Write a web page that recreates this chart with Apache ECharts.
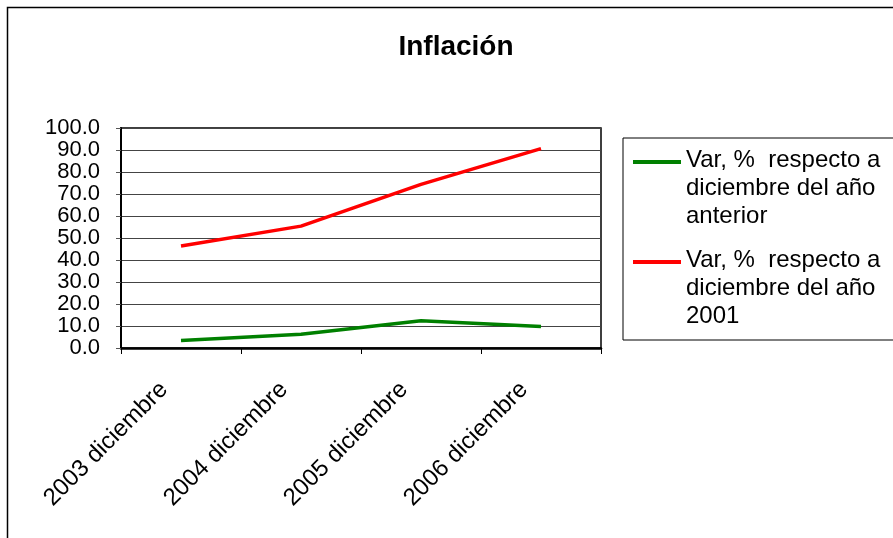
<!DOCTYPE html>
<html>
<head>
<meta charset="utf-8">
<title>Inflación</title>
<script src="https://cdn.jsdelivr.net/npm/echarts@6/dist/echarts.min.js"></script>
<style>
  html, body { margin: 0; padding: 0; background: #fff; }
  #chart { width: 893px; height: 538px; }
</style>
</head>
<body>
<div id="chart"></div>
<script>
// categorías del eje X
const categories = ["2003 diciembre", "2004 diciembre", "2005 diciembre", "2006 diciembre"];

// nombres de las series (leyenda)
const seriesNames = [
  "Var, %  respecto a\ndiciembre del año\nanterior",
  "Var, %  respecto a\ndiciembre del año\n2001",
];

// valores
const varAnterior = [3.4, 6.3, 12.4, 9.8];
const var2001 = [46.4, 55.4, 74.4, 90.6];

// marcas del eje Y
const yMin = 0;
const yMax = 100;
const yStep = 10;

const FONT = "'Liberation Sans', Arial, sans-serif";

// icono de leyenda: la raya arriba, así queda a la altura de la primera línea del texto
const legendIcon = "path://M0,0L48,0L48,4L0,4Z M0,56L48,56";

const chart = echarts.init(document.getElementById("chart"), null, { renderer: "canvas" });

const option = {
  animation: false,
  backgroundColor: "#fff",
  textStyle: { fontFamily: FONT, color: "#000" },
  title: {
    text: "Inflación",
    left: 456,
    top: 33,
    padding: 0,
    textAlign: "center",
    textStyle: { fontFamily: FONT, fontSize: 28, fontWeight: "bold", color: "#000" },
  },
  graphic: [
    {
      type: "rect",
      silent: true,
      z: -1,
      shape: { x: 7.5, y: 7.5, width: 1000, height: 1000 },
      style: { fill: "none", stroke: "#000", lineWidth: 1.5 },
    },
  ],
  legend: {
    orient: "vertical",
    left: 623,
    top: 138,
    padding: [8, 40, 10, 10],
    itemGap: 16,
    itemWidth: 48,
    itemHeight: 56,
    borderColor: "#000",
    borderWidth: 1,
    icon: legendIcon,
    selectedMode: false,
    data: seriesNames,
    textStyle: {
      fontFamily: FONT,
      fontSize: 24,
      lineHeight: 28,
      color: "#000",
    },
  },
  grid: {
    left: 121,
    right: 292,
    top: 128,
    bottom: 190,
    show: true,
    borderColor: "#000",
    borderWidth: 1.5,
    backgroundColor: "transparent",
  },
  xAxis: {
    type: "category",
    data: categories,
    boundaryGap: true,
    axisLine: { lineStyle: { color: "#000", width: 2.5 } },
    axisTick: { show: true, length: 6, lineStyle: { color: "#000", width: 1 } },
    axisLabel: {
      interval: 0,
      rotate: 45,
      margin: 21,
      padding: [0, 24, 0, 0],
      fontFamily: FONT,
      fontSize: 24,
      color: "#000",
    },
    splitLine: { show: false },
  },
  yAxis: {
    type: "value",
    min: yMin,
    max: yMax,
    interval: yStep,
    axisLine: { show: true, lineStyle: { color: "#000", width: 2 } },
    axisTick: { show: true, length: 5, lineStyle: { color: "#555", width: 1 } },
    axisLabel: {
      margin: 21,
      fontFamily: FONT,
      fontSize: 22,
      color: "#000",
      formatter: (v) => v.toFixed(1),
    },
    splitLine: { show: true, lineStyle: { color: "#444", width: 1.2 } },
  },
  series: [
    {
      name: seriesNames[0],
      type: "line",
      data: varAnterior,
      symbol: "none",
      lineStyle: { color: "#008000", width: 3.5 },
      itemStyle: { color: "#008000" },
    },
    {
      name: seriesNames[1],
      type: "line",
      data: var2001,
      symbol: "none",
      lineStyle: { color: "#ff0000", width: 3.5 },
      itemStyle: { color: "#ff0000" },
    },
  ],
};

chart.setOption(option);
</script>
</body>
</html>
